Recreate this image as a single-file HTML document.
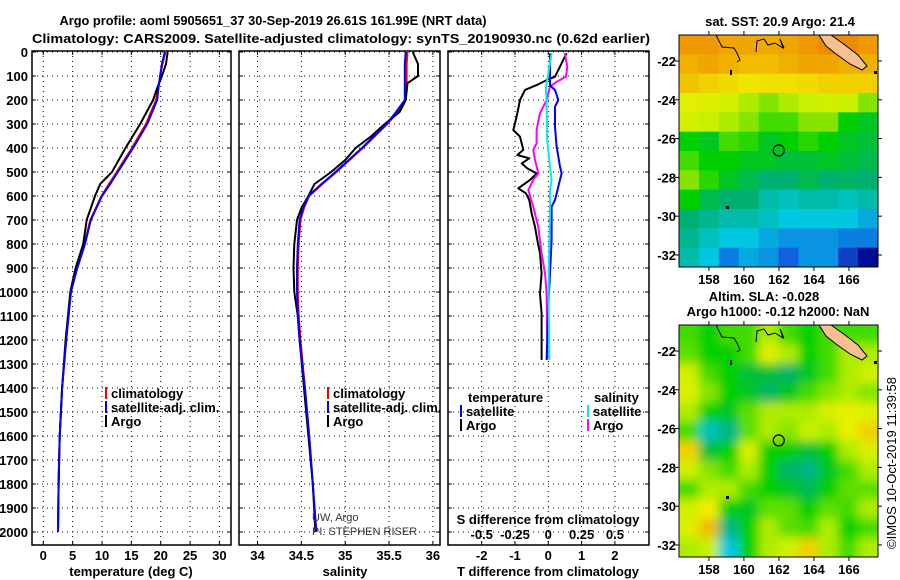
<!DOCTYPE html>
<html><head><meta charset="utf-8"><style>
body{margin:0;background:#fff;}
svg{display:block;font-family:"Liberation Sans",sans-serif;}
.b{font-weight:bold;font-size:13px;fill:#000;}
</style></head><body>
<svg id="s" width="900" height="580" viewBox="0 0 900 580">
<defs>
<clipPath id="cm1"><rect x="679" y="35" width="199" height="232"/></clipPath>
<clipPath id="cm2"><rect x="679" y="325" width="199" height="232"/></clipPath>
<filter id="bl" x="-10%" y="-10%" width="120%" height="120%"><feGaussianBlur stdDeviation="5"/></filter>
</defs>
<text class="b" x="273" y="25" text-anchor="middle" textLength="427" lengthAdjust="spacingAndGlyphs">Argo profile: aoml 5905651_37 30-Sep-2019 26.61S 161.99E (NRT data)</text>
<text class="b" x="341" y="43" text-anchor="middle" textLength="618" lengthAdjust="spacingAndGlyphs">Climatology: CARS2009. Satellite-adjusted climatology: synTS_20190930.nc (0.62d earlier)</text>
<g id="g"></g>
</svg>
<script>
// ---- data ----
const depthTicks=[0,100,200,300,400,500,600,700,800,900,1000,1100,1200,1300,1400,1500,1600,1700,1800,1900,2000];
const tTicks=[0,5,10,15,20,25,30];
const sTicks=[34,34.5,35,35.5,36];
const dTTicks=[-2,-1,0,1,2];
const dSTicks=[-0.5,-0.25,0,0.25,0.5];
const tDepth=[0,50,100,150,200,300,400,500,550,600,700,800,900,1000,1200,1400,1600,1800,2000];
const tArgo=[21.2,20.9,20.2,19.4,18.7,16.5,14.0,11.7,9.7,8.8,7.4,6.8,5.5,4.6,3.8,3.2,2.8,2.6,2.5];
const tClim=[20.8,20.3,19.9,19.6,19.2,17.5,15.1,12.5,11.2,9.9,8.0,7.0,5.7,4.7,3.9,3.2,2.8,2.6,2.5];
const tSat=[20.7,20.2,19.9,19.6,19.4,17.7,15.3,12.7,11.4,10.0,8.1,7.1,5.8,4.7,3.9,3.2,2.8,2.6,2.5];
const sDepth=[0,50,100,130,200,250,300,350,400,450,500,550,600,650,700,800,900,1000,1100,1200,1400,1600,1800,2000];
const sArgo=[35.77,35.83,35.83,35.71,35.69,35.62,35.45,35.30,35.12,35.00,34.84,34.65,34.58,34.50,34.45,34.42,34.41,34.42,34.46,34.48,34.53,34.58,34.63,34.66];
const sClim=[35.71,35.70,35.70,35.70,35.69,35.60,35.48,35.34,35.20,35.05,34.90,34.74,34.59,34.53,34.49,34.47,34.46,34.46,34.47,34.49,34.54,34.59,34.63,34.67];
const sSat=[35.69,35.68,35.68,35.68,35.68,35.58,35.47,35.33,35.19,35.04,34.89,34.73,34.58,34.52,34.48,34.46,34.45,34.45,34.46,34.48,34.54,34.59,34.63,34.67];
const dDepthA=[5,61,103,117,138,158,200,256,297,325,353,381,408,429,443,464,485,506,533,568,589,617,672,728,783,839,922,1006,1089,1200,1283];
const dTArgo=[0.55,0.35,0.2,-0.05,-0.35,-0.7,-0.85,-0.93,-1.0,-1.05,-0.85,-0.8,-0.75,-0.93,-0.57,-0.8,-0.63,-0.35,-0.55,-0.9,-0.67,-0.57,-0.5,-0.4,-0.33,-0.25,-0.2,-0.25,-0.2,-0.2,-0.2];
const dDepthB=[5,140,158,200,228,311,394,478,506,561,617,644,783,922,1061,1200,1283];
const dTSat=[0.05,0.05,0.2,0.3,0.2,0.2,0.25,0.35,0.4,0.3,0.2,0.1,0.1,0.05,0,-0.03,-0.05];
const dDepthM=[5,61,103,124,144,200,256,325,381,408,450,506,533,575,644,728,839,922,1006,1200,1283];
const dSArgo=[0.125,0.143,0.133,0.063,0.013,-0.013,-0.063,-0.088,-0.088,-0.113,-0.1,-0.075,-0.113,-0.15,-0.113,-0.075,-0.05,-0.025,-0.013,-0.008,-0.008];
const dDepthC=[5,89,144,228,367,478,533,575,644,783,922,1061,1283];
const dSSat=[0.025,0,-0.018,-0.013,-0.008,0.013,0.025,0.013,0.013,0.008,0.003,0.003,0.008];
const lonTicks=[158,160,162,164,166];
const latTicks=[-22,-24,-26,-28,-30,-32];
const floatLon=161.99, floatLat=-26.61;
const sstGrid=[
[.86,.86,.84,.84,.83,.84,.86,.88,.88,.86],
[.82,.84,.82,.8,.8,.82,.84,.84,.82,.82],
[.78,.76,.74,.72,.73,.73,.74,.76,.76,.76],
[.66,.65,.63,.58,.55,.58,.6,.62,.6,.55],
[.62,.6,.58,.55,.5,.5,.55,.55,.45,.42],
[.45,.42,.5,.48,.42,.45,.48,.45,.42,.4],
[.5,.45,.45,.42,.42,.4,.4,.42,.4,.38],
[.55,.48,.42,.38,.35,.35,.38,.35,.36,.35],
[.45,.38,.35,.35,.3,.28,.3,.3,.28,.3],
[.35,.32,.3,.3,.28,.25,.25,.25,.25,.22],
[.32,.28,.25,.25,.22,.2,.2,.2,.18,.18],
[.3,.25,.18,.22,.2,.15,.2,.2,.1,.02]];
const slaGrid=[
[.5,.45,.5,.5,.58,.5,.45,.5,.5,.5],
[.52,.45,.45,.5,.66,.58,.45,.5,.58,.58],
[.62,.5,.45,.4,.4,.36,.42,.5,.58,.62],
[.65,.55,.45,.42,.36,.42,.5,.55,.58,.55],
[.58,.45,.42,.52,.58,.58,.58,.64,.68,.66],
[.5,.28,.33,.52,.58,.55,.6,.58,.68,.76],
[.76,.4,.45,.64,.45,.45,.4,.45,.58,.64],
[.62,.55,.5,.58,.45,.36,.33,.42,.5,.58],
[.5,.58,.58,.5,.45,.42,.38,.45,.52,.52],
[.62,.7,.45,.42,.52,.52,.45,.52,.5,.58],
[.65,.8,.33,.45,.58,.52,.5,.58,.45,.5],
[.58,.6,.25,.45,.58,.62,.76,.58,.5,.58]];

const NS='http://www.w3.org/2000/svg';
const G=document.getElementById('g');
function mk(t,a,p){const e=document.createElementNS(NS,t);for(const k in a)e.setAttribute(k,a[k]);(p||G).appendChild(e);return e;}
function tx(x,y,s,anc,cls,p){const e=mk('text',{x:x,y:y,'text-anchor':anc||'start',class:cls||'b'},p);e.textContent=s;return e;}
const Y0=52, KY=0.24;
const yD=d=>Y0+d*KY;
const xT=v=>43.3+v*5.87;
const xS=v=>257.5+(v-34)*87.7;
const xDT=v=>548.3+v*33.3;
const xDS=v=>548.3+v*4*33.3;
const boxes=[[32,231],[239,440],[448,649]];
const xf=[xT,xS,xDT];
const xt=[tTicks,sTicks,dTTicks];
boxes.forEach((b,i)=>{
  const gp=mk('g',{});
  
  
  depthTicks.forEach(d=>{mk('line',{x1:b[0],x2:b[1],y1:yD(d),y2:yD(d),stroke:'#000','stroke-width':1,'stroke-dasharray':'1 4'},gp);
    mk('line',{x1:b[0],x2:b[0]+4,y1:yD(d),y2:yD(d),stroke:'#000'},gp);mk('line',{x1:b[1]-4,x2:b[1],y1:yD(d),y2:yD(d),stroke:'#000'},gp);});
  xt[i].forEach(v=>{const x=xf[i](v);mk('line',{x1:x,x2:x,y1:51,y2:545,stroke:'#000','stroke-dasharray':'1 4'},gp);
    mk('line',{x1:x,x2:x,y1:541,y2:545,stroke:'#000'},gp);mk('line',{x1:x,x2:x,y1:51,y2:55,stroke:'#000'},gp);
    const t=tx(x,560,String(v),'middle','b',gp);
    
    });
  mk('rect',{x:b[0],y:51,width:b[1]-b[0],height:494,fill:'none',stroke:'#000','stroke-width':1.5},gp);
});
depthTicks.forEach(d=>{const t=tx(28,yD(d)+5,String(d),'end');
  
  });
function line(xs,ds,fx,col,name,w){
  const pts=xs.map((v,i)=>fx(v).toFixed(1)+','+yD(ds[i]).toFixed(1)).join(' ');
  const p=mk('polyline',{points:pts,fill:'none',stroke:col,'stroke-width':w||2,'stroke-linejoin':'round'});
  
  
}
line(tClim,tDepth,xT,'#f00','temp-climatology-line');
line(tArgo,tDepth,xT,'#000','temp-argo-line');
line(tSat,tDepth,xT,'#00f','temp-satellite-line');
line(sClim,sDepth,xS,'#f00','sal-climatology-line');
line(sArgo,sDepth,xS,'#000','sal-argo-line');
line(sSat,sDepth,xS,'#00f','sal-satellite-line');
line(dTArgo,dDepthA,xDT,'#000','dT-argo-line');
line(dSArgo,dDepthM,xDS,'#f0f','dS-argo-line');
line(dTSat,dDepthB,xDT,'#00f','dT-satellite-line');
line(dSSat,dDepthC,xDS,'#0ee','dS-satellite-line');
// legends
function leg(x,y,col,label,name){const g=mk('g',{});
  
  
  mk('rect',{x:x,y:y-11,width:2,height:12,fill:col},g);tx(x+6,y,label,'start','b',g);}
[[105,'#f00','climatology'],[105,'#00f','satellite-adj. clim.'],[105,'#000','Argo']].forEach((e,i)=>leg(e[0],398+i*14,e[1],e[2],'legend-temp-'+i));
[[327,'#f00','climatology'],[327,'#00f','satellite-adj. clim.'],[327,'#000','Argo']].forEach((e,i)=>leg(e[0],398+i*14,e[1],e[2],'legend-sal-'+i));
tx(468,402,'temperature');
tx(594,402,'salinity');
leg(460,416,'#00f','satellite','legend-dT-satellite');leg(460,430,'#000','Argo','legend-dT-argo');
leg(587,416,'#0ee','satellite','legend-dS-satellite');leg(587,430,'#f0f','Argo','legend-dS-argo');
tx(548,524,'S difference from climatology','middle');
dSTicks.forEach(v=>{const t=tx(xDS(v),539,String(v),'middle');
  
  });
tx(131,576,'temperature (deg C)','middle');
tx(345,576,'salinity','middle');
tx(548,576,'T difference from climatology','middle');
const c1=tx(312,521,'UW, Argo','start','n');c1.setAttribute('style','font-size:11px;fill:#333');
const c2=tx(312,535,'PI: STEPHEN RISER','start','n');c2.setAttribute('style','font-size:11px;fill:#333');
// ---- maps ----
const stops=[[0,[0,0,140]],[0.15,[16,96,224]],[0.25,[0,200,224]],[0.35,[0,176,112]],[0.45,[0,208,0]],[0.6,[200,240,0]],[0.7,[240,240,0]],[0.85,[240,160,0]],[1,[220,60,0]]];
function cmap(v){for(let i=1;i<stops.length;i++){if(v<=stops[i][0]){const a=stops[i-1],b=stops[i],t=(v-a[0])/(b[0]-a[0]);
  return 'rgb('+a[1].map((c,k)=>Math.round(c+(b[1][k]-c)*t)).join(',')+')';}}return 'rgb(220,60,0)';}
const LON0=156.29,LON1=167.66,LAT0=-20.66,LAT1=-32.62;
function drawMap(top,grid,name,blur){
  const x0=679,w=199,h=232;
  const lx=lon=>x0+(lon-LON0)/(LON1-LON0)*w;
  const ly=lat=>top+(lat-LAT0)/(LAT1-LAT0)*h;
  const g=mk('g',{'clip-path':'url(#'+(blur?'cm2':'cm1')+')'});
  
  
  const inner=mk('g',blur?{filter:'url(#bl)'}:{},g);
  const R=grid.length,C=grid[0].length,cw=w/C,ch=h/R;
  grid.forEach((row,r)=>row.forEach((v,c)=>{
    const e=mk('rect',{x:x0+c*cw-(blur?10:0)*(c==0),y:top+r*ch-(blur?10:0)*(r==0),width:cw+0.6+(blur?10:0)*((c==0)+(c==C-1)),height:ch+0.6+(blur?10:0)*((r==0)+(r==R-1)),fill:cmap(v)},inner);
    
    }));
  const land=mk('polygon',{points:[[819,35],[831,35],[845,45],[858,55],[867,66],[862,70],[850,64],[836,54],[826,46]].map(p=>p[0]+','+(p[1]+top-35)).join(' '),fill:'#f8c090',stroke:'#000','stroke-width':1},g);
  
  mk('path',{d:`M716 ${top} L720 ${top+8} L722 ${top+12} L734 ${top+13} L737 ${top+18} L740 ${top+25} L737 ${top+27} M756 ${top+17} L757 ${top+6} L764 ${top+4} L768 ${top+10} L775 ${top+8} L783 ${top+13} L780 ${top+4} L784 ${top+13}`,fill:'none',stroke:'#000','stroke-width':1},g);
  mk('rect',{x:874,y:top+36,width:3,height:3,fill:'#000'},g);
  mk('rect',{x:730,y:top+35,width:2,height:5,fill:'#000'},g);
  mk('rect',{x:726,y:top+171,width:3,height:3,fill:'#000'},g);
  const circ=mk('circle',{cx:lx(floatLon),cy:ly(floatLat),r:5.5,fill:'none',stroke:'#000','stroke-width':1.3});
  
  
  mk('rect',{x:x0,y:top,width:w,height:h,fill:'none',stroke:'#000','stroke-width':1});
  lonTicks.forEach(l=>{mk('line',{x1:lx(l),x2:lx(l),y1:top-4,y2:top,stroke:'#000'});mk('line',{x1:lx(l),x2:lx(l),y1:top+h,y2:top+h+4,stroke:'#000'});
    const t=tx(lx(l),top+h+17,String(l),'middle');});
  latTicks.forEach(l=>{mk('line',{x1:x0+w,x2:x0+w+4,y1:ly(l),y2:ly(l),stroke:'#000'});mk('line',{x1:x0-4,x2:x0,y1:ly(l),y2:ly(l),stroke:'#000'});
    const t=tx(676,ly(l)+5,String(l),'end');});
}
drawMap(35,sstGrid,'sst-map',false);
drawMap(325,slaGrid,'sla-map',true);
tx(780,26,'sat. SST: 20.9 Argo: 21.4','middle');
tx(764,301,'Altim. SLA: -0.028','middle');
tx(778,316,'Argo h1000: -0.12 h2000: NaN','middle');
const im=tx(0,0,'©IMOS 10-Oct-2019 11:39:58','middle','n');
im.setAttribute('style','font-size:13px;fill:#000');
im.setAttribute('transform','translate(896,463) rotate(-90)');


</script>
</body></html>
